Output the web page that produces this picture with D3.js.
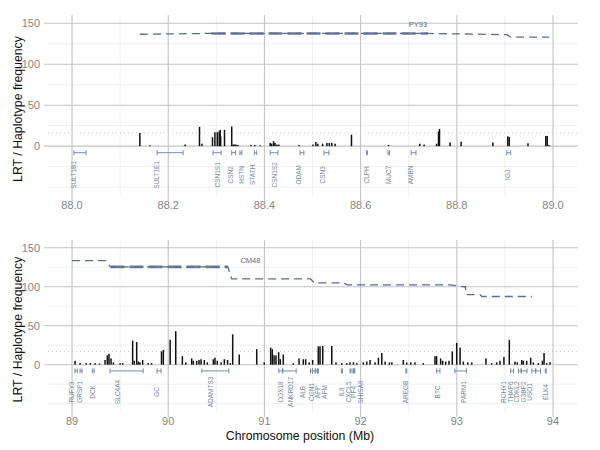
<!DOCTYPE html>
<html>
<head>
<meta charset="utf-8">
<script src="https://cdn.jsdelivr.net/npm/d3@7"></script>
<style>
  body { margin: 0; background: #fff; }
  text { font-family: "Liberation Sans", Arial, sans-serif; }
</style>
</head>
<body>
<div id="chart"></div>
<script>
// ---- top panel data (88-89 Mb) ----
const topBarPos = [88.141, 88.162, 88.235, 88.265, 88.27, 88.292, 88.297, 88.302, 88.306, 88.308, 88.309, 88.317,
  88.332, 88.335, 88.338, 88.341, 88.345, 88.372, 88.380, 88.391, 88.412, 88.415, 88.419, 88.422, 88.426, 88.43,
  88.472, 88.501, 88.507, 88.511, 88.521, 88.53, 88.535, 88.54, 88.547, 88.581, 88.658, 88.723, 88.732,
  88.758, 88.762, 88.764, 88.786, 88.809, 88.875, 88.906, 88.909, 88.948, 88.985, 88.988, 88.992];
const topBarLRT = [16, 1, 2, 23.5, 3, 11, 17, 17, 18, 20, 12, 20,
  24, 2, 2, 2, 1.5, 1.5, 1.5, 1, 4, 3, 6, 4, 2, 2,
  1.5, 2, 5, 3, 3, 4, 4, 4, 3, 14, 1.5, 3, 2,
  3, 18, 21, 4.5, 5.5, 4.5, 12, 11, 3.5, 12.5, 12.5, 1.5];
const topHapPos = [88.141, 88.28, 88.74, 88.905, 88.912, 88.992];
const topHapFreq = [136.5, 137.5, 137.5, 136, 133, 133];
const topDense = [88.29, 88.74];
const topThreshold = 16;
const topGenes = [
  { name: "SULT1B1", start: 88.004, end: 88.029, label: 88.004 },
  { name: "SULT1E1", start: 88.177, end: 88.231, label: 88.177 },
  { name: "CSN1S1", start: 88.293, end: 88.310, label: 88.303 },
  { name: "CSN2", start: 88.332, end: 88.340, label: 88.330 },
  { name: "HSTN", start: 88.349, end: 88.353, label: 88.353 },
  { name: "STATH", start: 88.379, end: 88.384, label: 88.376 },
  { name: "CSN1S2", start: 88.412, end: 88.428, label: 88.422 },
  { name: "ODAM", start: 88.474, end: 88.482, label: 88.472 },
  { name: "CSN3", start: 88.524, end: 88.534, label: 88.522 },
  { name: "CLPH", start: 88.612, end: 88.614, label: 88.613 },
  { name: "MUC7", start: 88.657, end: 88.660, label: 88.659 },
  { name: "AMBN", start: 88.705, end: 88.715, label: 88.705 },
  { name: "IGJ", start: 88.904, end: 88.912, label: 88.906 }
];
const topTicks = [88.0, 88.2, 88.4, 88.6, 88.8, 89.0];
const topMinor = [88.1, 88.3, 88.5, 88.7, 88.9];

// ---- bottom panel data (89-94 Mb) ----
const botBarPos = [89.031, 89.083, 89.146, 89.19, 89.24, 89.285, 89.343, 89.367, 89.384, 89.405, 89.43, 89.5, 89.527,
  89.63, 89.647, 89.672, 89.688, 89.705, 89.734, 89.792, 89.827, 89.93, 89.949, 90.02, 90.078, 90.147, 90.182,
  90.244, 90.261, 90.296, 90.32, 90.341, 90.375, 90.406, 90.469, 90.486, 90.51, 90.549, 90.583, 90.617, 90.645,
  90.67, 90.738, 90.92, 90.998, 91.065, 91.082, 91.1, 91.12, 91.148, 91.165, 91.196, 91.3, 91.36,
  91.404, 91.429, 91.466, 91.501, 91.56, 91.578, 91.606, 91.7, 91.744, 91.804, 91.856, 91.89, 91.925, 91.96,
  92.029, 92.064, 92.098, 92.15, 92.185, 92.22, 92.255, 92.3, 92.325, 92.444, 92.479, 92.521, 92.565, 92.651,
  92.773, 92.79, 92.832, 92.853, 92.884, 92.919, 92.953, 92.999, 93.034, 93.068, 93.114, 93.156, 93.303,
  93.362, 93.414, 93.449, 93.49, 93.546, 93.605, 93.629, 93.675, 93.692, 93.727, 93.768, 93.796, 93.848,
  93.89, 93.907, 93.935, 93.969];
const botBarLRT = [5, 2, 2, 2, 2, 1.5, 6, 12, 14, 8, 3, 2, 2,
  31, 5, 29, 4, 3, 6, 2, 2, 17, 19, 32, 43, 11, 3,
  8, 5, 5, 6, 7, 6, 3, 7, 9, 5, 3, 7, 6, 2,
  39, 13, 20, 3, 22, 20, 12, 12, 16, 7, 13, 2, 8,
  7, 7, 3, 6, 23.5, 23.5, 24, 24, 3, 2, 2, 3, 3, 2,
  3, 4, 6, 3, 9, 15, 4, 3, 3, 6, 3, 3, 3, 2,
  11, 11, 8, 5, 4, 5, 17, 28, 22, 4, 3, 3, 8,
  2, 3, 5, 10, 32, 4, 3, 6, 5, 5, 9, 3, 2,
  5, 15, 2, 3];
const botHapPos = [89.0, 89.35, 89.40, 90.62, 90.66, 91.48, 91.52, 91.82, 91.86, 92.93, 93.08, 93.09, 93.095, 93.24, 93.26, 93.78];
const botHapFreq = [133.5, 133.5, 125.5, 125.5, 110, 110, 105, 105, 102.5, 102.5, 100, 100, 90, 90, 87.5, 87.5];
const botDense = [89.40, 90.62];
const botThreshold = 17;
const botGenes = [
  { name: "RUFY3", start: 89.03, end: 89.055, label: 89.0 },
  { name: "GRSF1", start: 89.083, end: 89.104, label: 89.076 },
  { name: "DCK", start: 89.21, end: 89.23, label: 89.215 },
  { name: "SLC4A4", start: 89.395, end: 89.74, label: 89.48 },
  { name: "GC", start: 89.884, end: 89.925, label: 89.884 },
  { name: "ADAMTS3", start: 90.35, end: 90.63, label: 90.445 },
  { name: "COX18", start: 91.15, end: 91.19, label: 91.17 },
  { name: "ANKRD17", start: 91.19, end: 91.33, label: 91.27 },
  { name: "ALB", start: 91.48, end: 91.50, label: 91.40 },
  { name: "CGN1", start: 91.50, end: 91.53, label: 91.495 },
  { name: "AFP", start: 91.53, end: 91.55, label: 91.555 },
  { name: "AFM", start: 91.55, end: 91.56, label: 91.625 },
  { name: "IL8", start: 91.80, end: 91.802, label: 91.80 },
  { name: "CXCL5", start: 91.89, end: 91.892, label: 91.88 },
  { name: "PF4", start: 91.92, end: 91.922, label: 91.93 },
  { name: "SHISA8", start: 91.93, end: 91.932, label: 92.0 },
  { name: "AREGB", start: 92.47, end: 92.475, label: 92.47 },
  { name: "BTC", start: 92.79, end: 92.825, label: 92.80 },
  { name: "PARM1", start: 92.98, end: 93.10, label: 93.07 },
  { name: "RCHY1", start: 93.56, end: 93.59, label: 93.49 },
  { name: "THAP6", start: 93.64, end: 93.67, label: 93.56 },
  { name: "CDKL2", start: 93.67, end: 93.73, label: 93.62 },
  { name: "G3BP2", start: 93.78, end: 93.82, label: 93.70 },
  { name: "USO1", start: 93.82, end: 93.87, label: 93.76 },
  { name: "ELK4", start: 93.92, end: 93.925, label: 93.92 }
];
const botTicks = [89, 90, 91, 92, 93, 94];
const botMinor = [89.5, 90.5, 91.5, 92.5, 93.5];

const yMajor = [0, 50, 100, 150];
const yMinor = [-50, -25, 25, 75, 125];

const width = 600;
const height = 450;
const hapColor = "#5d6d8a";
const geneColor = "#7a8aa8";

const svg = d3.select("#chart").append("svg")
  .attr("width", width)
  .attr("height", height);

function drawPanel(o) {
  const x = d3.scaleLinear().domain(o.xDomain).range([48, 578]);
  const y = d3.scaleLinear().domain([-62, 160]).range([o.bottom, o.top]);
  const g = svg.append("g");

  // minor grid
  g.selectAll(".hminor").data(yMinor).enter().append("line")
    .attr("x1", 48).attr("x2", 578)
    .attr("y1", d => y(d)).attr("y2", d => y(d))
    .attr("stroke", "#ececec").attr("stroke-width", 0.8);
  g.selectAll(".vminor").data(o.minor).enter().append("line")
    .attr("x1", d => x(d)).attr("x2", d => x(d))
    .attr("y1", o.top).attr("y2", o.bottom)
    .attr("stroke", "#ececec").attr("stroke-width", 0.8);

  // major grid
  g.selectAll(".hmajor").data(yMajor).enter().append("line")
    .attr("x1", 44).attr("x2", 578)
    .attr("y1", d => y(d)).attr("y2", d => y(d))
    .attr("stroke", "#c4c4c4").attr("stroke-width", 1.1);
  g.selectAll(".vmajor").data(o.ticks).enter().append("line")
    .attr("x1", d => x(d)).attr("x2", d => x(d))
    .attr("y1", o.top).attr("y2", o.bottom + 4)
    .attr("stroke", "#c4c4c4").attr("stroke-width", 1.1);

  // tick labels
  g.selectAll(".ylab").data(yMajor).enter().append("text")
    .attr("x", 40).attr("y", d => y(d)).attr("dy", "0.35em")
    .attr("text-anchor", "end").attr("font-size", 11).attr("fill", "#858585")
    .text(d => d);
  g.selectAll(".xlab").data(o.ticks).enter().append("text")
    .attr("x", d => x(d)).attr("y", o.bottom + 12)
    .attr("text-anchor", "middle").attr("font-size", 11).attr("fill", "#858585")
    .text(o.fmt);

  // threshold
  g.append("line")
    .attr("x1", 48).attr("x2", 578)
    .attr("y1", y(o.threshold)).attr("y2", y(o.threshold))
    .attr("stroke", "#cccccc").attr("stroke-width", 1)
    .attr("stroke-dasharray", "1,3");

  // LRT bars
  g.selectAll(".bar").data(o.barPos).enter().append("rect")
    .attr("x", d => x(d) - 0.75)
    .attr("width", 1.5)
    .attr("y", (d, i) => y(o.barLRT[i]))
    .attr("height", (d, i) => y(0) - y(o.barLRT[i]))
    .attr("fill", "#111");

  // haplotype frequency line
  const pts = o.hapPos.map((p, i) => [p, o.hapFreq[i]]);
  const line = d3.line().x(d => x(d[0])).y(d => y(d[1]));
  g.append("path").attr("d", line(pts))
    .attr("fill", "none").attr("stroke", hapColor)
    .attr("stroke-width", 1.3).attr("stroke-dasharray", "8,5");
  const interp = d3.scaleLinear().domain(o.hapPos).range(o.hapFreq);
  const densePts = [[o.dense[0], interp(o.dense[0])]]
    .concat(pts.filter(d => d[0] > o.dense[0] && d[0] < o.dense[1]))
    .concat([[o.dense[1], interp(o.dense[1])]]);
  g.append("path").attr("d", line(densePts))
    .attr("fill", "none").attr("stroke", hapColor).attr("stroke-opacity", 0.9)
    .attr("stroke-width", 2.6).attr("stroke-dasharray", "14,5");
  g.append("text")
    .attr("x", x(o.hapLabel[0])).attr("y", y(o.hapLabel[1]))
    .attr("font-size", 7.5).attr("fill", hapColor)
    .text(o.hapLabel[2]);

  // genes
  const gy = y(-8);
  const genes = g.selectAll(".gene").data(o.genes).enter().append("g");
  genes.append("line")
    .attr("x1", d => x(d.start)).attr("x2", d => Math.max(x(d.end), x(d.start) + 1))
    .attr("y1", gy).attr("y2", gy)
    .attr("stroke", geneColor).attr("stroke-width", 1);
  genes.append("line")
    .attr("x1", d => x(d.start)).attr("x2", d => x(d.start))
    .attr("y1", gy - 2.5).attr("y2", gy + 2.5)
    .attr("stroke", geneColor).attr("stroke-width", 1);
  genes.append("line")
    .attr("x1", d => Math.max(x(d.end), x(d.start) + 1)).attr("x2", d => Math.max(x(d.end), x(d.start) + 1))
    .attr("y1", gy - 2.5).attr("y2", gy + 2.5)
    .attr("stroke", geneColor).attr("stroke-width", 1);
  genes.append("text")
    .attr("transform", d => "translate(" + x(d.label) + "," + y(-35) + ") rotate(-90)")
    .attr("text-anchor", "middle").attr("dy", "0.35em")
    .attr("font-size", 6.5).attr("fill", geneColor)
    .text(d => d.name);

  // y title
  svg.append("text")
    .attr("transform", "translate(18," + ((o.top + o.bottom) / 2 + 3) + ") rotate(-90)")
    .attr("text-anchor", "middle").attr("dy", "0.35em")
    .attr("font-size", 12.3).attr("fill", "#111")
    .text("LRT / Haplotype frequency");
}

drawPanel({
  xDomain: [87.95, 89.052], top: 15, bottom: 197,
  ticks: topTicks, minor: topMinor, fmt: d3.format(".1f"),
  barPos: topBarPos, barLRT: topBarLRT, threshold: topThreshold,
  hapPos: topHapPos, hapFreq: topHapFreq, dense: topDense, hapLabel: [88.70, 145, "PY93"],
  genes: topGenes
});

drawPanel({
  xDomain: [88.75, 94.26], top: 240, bottom: 413,
  ticks: botTicks, minor: botMinor, fmt: d3.format("d"),
  barPos: botBarPos, barLRT: botBarLRT, threshold: botThreshold,
  hapPos: botHapPos, hapFreq: botHapFreq, dense: botDense, hapLabel: [90.75, 131, "CM48"],
  genes: botGenes
});

svg.append("text")
  .attr("x", 300).attr("y", 440)
  .attr("text-anchor", "middle").attr("font-size", 12.3).attr("fill", "#111")
  .text("Chromosome position (Mb)");
</script>
</body>
</html>
